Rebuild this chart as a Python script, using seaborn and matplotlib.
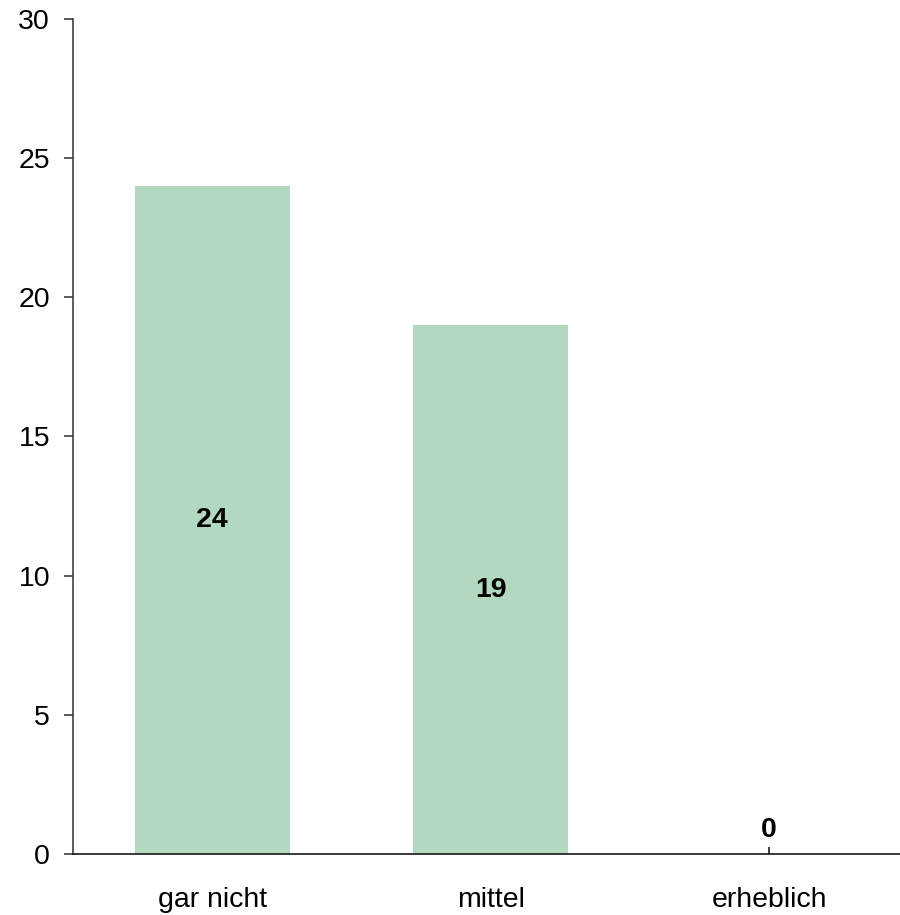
import matplotlib
matplotlib.use("Agg")
import matplotlib.pyplot as plt
import seaborn as sns
import pandas as pd

categories = ["gar nicht", "mittel", "erheblich"]
counts = [24, 19, 0]
y_ticks = [0, 5, 10, 15, 20, 25, 30]

sns.set_theme(style="white")
plt.rcParams["font.family"] = ["Liberation Sans", "DejaVu Sans"]

df = pd.DataFrame({"Kategorie": categories, "Anzahl": counts})

fig = plt.figure(figsize=(9, 9.15), dpi=100)
ax = fig.add_axes([0.0811, 0.0667, 0.9189, 0.9126])

sns.barplot(data=df, x="Kategorie", y="Anzahl", color="#b2d8c0",
            saturation=1, width=0.556, linewidth=0, ax=ax)

ax.set_xlim(-0.5, 2.47)
ax.set_ylim(0, 30)
ax.set_yticks(y_ticks)
ax.set_yticklabels([str(t) for t in y_ticks])
ax.set_xlabel("")
ax.set_ylabel("")

for s in ["top", "right"]:
    ax.spines[s].set_visible(False)
ax.spines["left"].set_color("#404040")
ax.spines["left"].set_linewidth(1.2)
ax.spines["bottom"].set_color("#1a1a1a")
ax.spines["bottom"].set_linewidth(1.2)

ax.tick_params(axis="y", direction="out", length=6.5, width=1.2,
               color="#404040", pad=10, labelsize=20.5, labelcolor="black",
               left=True)
ax.tick_params(axis="x", direction="in", length=5, width=1.2,
               color="#1a1a1a", pad=24, labelsize=20.5, labelcolor="black",
               bottom=True)

for i, v in enumerate(counts):
    if v > 0:
        ax.text(i, v / 2, str(v), ha="center", va="center",
                fontsize=20.5, fontweight="bold", color="black")
    else:
        ax.annotate(str(v), xy=(i, 0), xytext=(0, 17), textcoords="offset points",
                    ha="center", va="center", fontsize=20.5, fontweight="bold",
                    color="black")

fig.savefig("out.png", dpi=100)
